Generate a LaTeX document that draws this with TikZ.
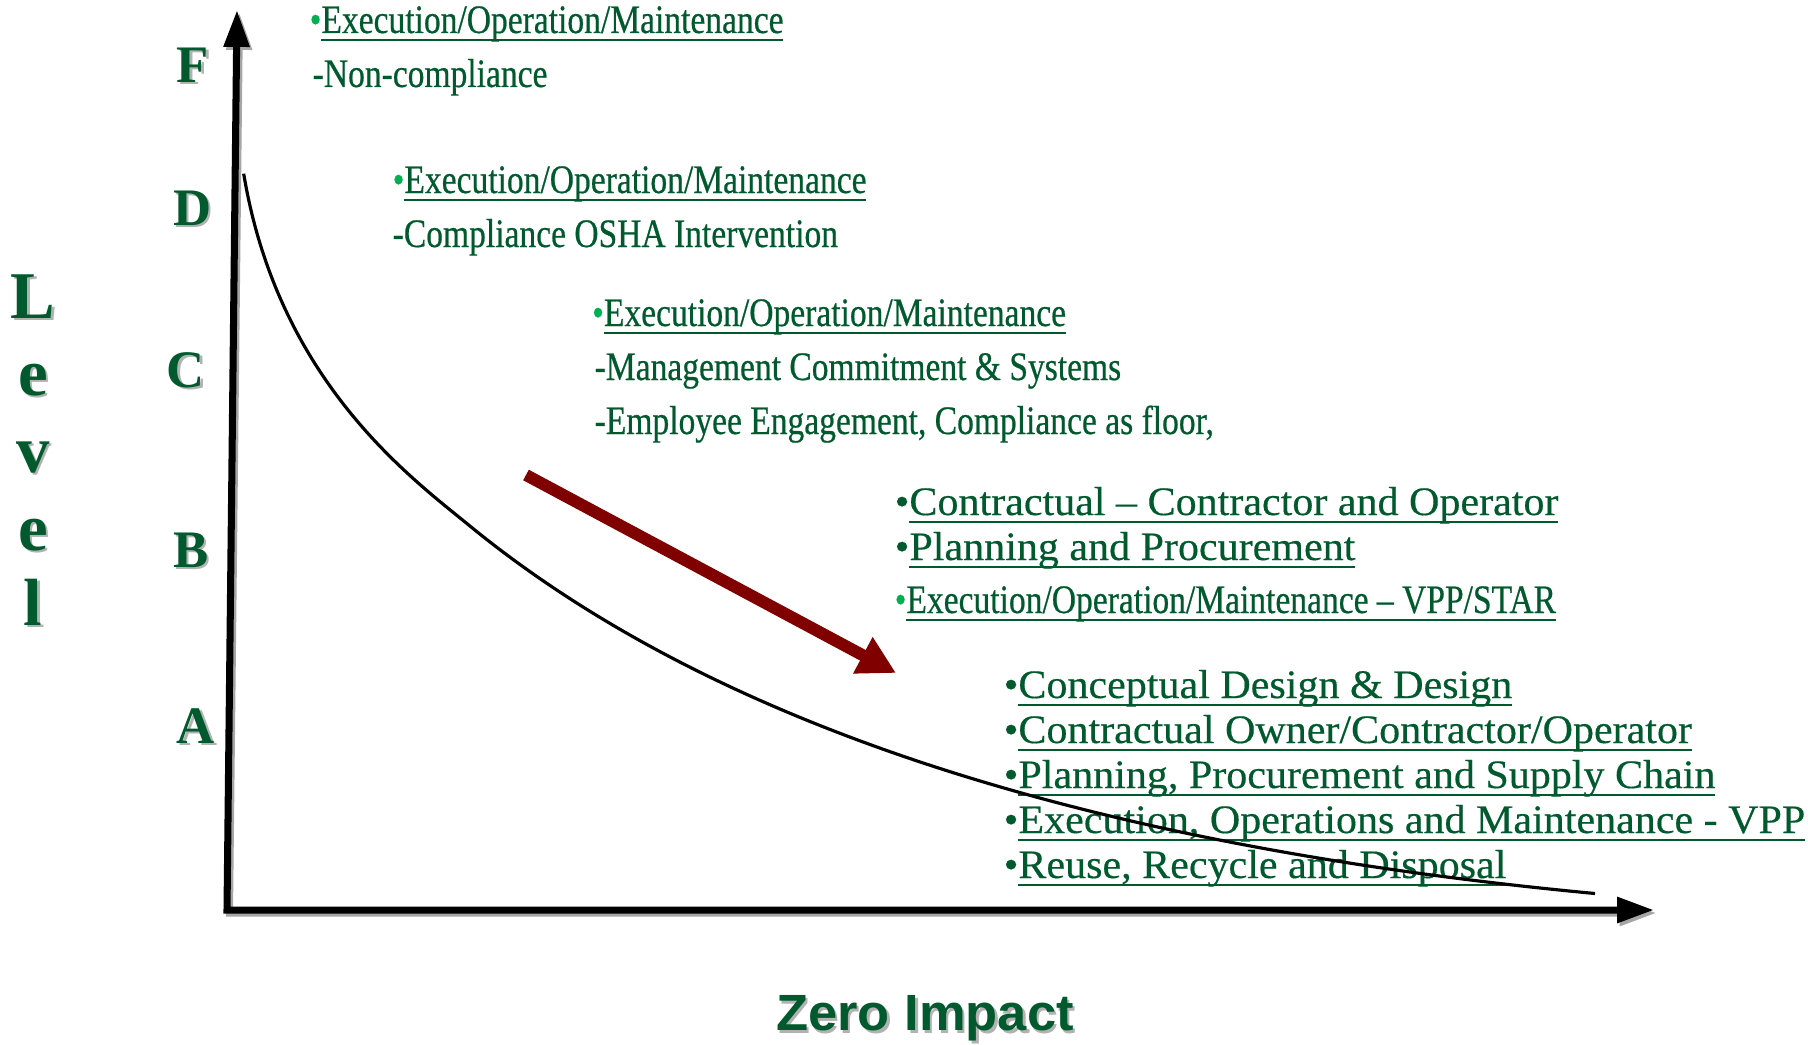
\documentclass[tikz,border=0pt]{standalone}
\usepackage{fontspec}
\usepackage{tikz}
\usetikzlibrary{arrows.meta}
\setmainfont{Liberation Serif}
\newfontfamily\tightfont[FakeStretch=0.83,FakeBold=0.5]{Liberation Serif}
\newfontfamily\widefont[FakeStretch=1.04,FakeBold=0.4]{Liberation Serif}
\newfontfamily\zerofont[FakeStretch=1.03]{Liberation Sans}
\definecolor{dkgreen}{RGB}{0,90,45}
\definecolor{ltgreen}{RGB}{0,176,80}
\definecolor{dkred}{RGB}{128,0,0}
\newcommand\undl[1]{\setbox0\hbox{#1}\rlap{\rule[-2.3pt]{\wd0}{0.65pt}}\box0}
\newcommand\dropshadow[1]{\rlap{\hspace{0.7pt}\raisebox{-0.7pt}{\color{black!30}#1}}#1}
\newcommand\gbul{{\color{ltgreen}•}}

\begin{document}
\begin{tikzpicture}[
    tight/.style={anchor=base west, inner sep=0pt, text=dkgreen, font=\tightfont\fontsize{11.5}{13}\selectfont},
    wide/.style={anchor=base west, inner sep=0pt, text=dkgreen, font=\widefont\fontsize{11.5}{13}\selectfont},
    level/.style={anchor=base, inner sep=0pt, text=dkgreen, font=\bfseries\fontsize{19}{21}\selectfont},
    grade/.style={anchor=base, inner sep=0pt, text=dkgreen, font=\bfseries\fontsize{15}{17}\selectfont},
    axis/.style={line width=2pt, line join=miter, {Triangle[length=10.5pt,width=7pt]}-{Triangle[length=10.5pt,width=7pt]}}
    ]
    \useasboundingbox (0,0) rectangle (18.08,10.44);
    \coordinate (origin) at (2.27,1.34);
    \coordinate (ytop) at (2.37,10.34);
    \coordinate (xend) at (16.54,1.34);
    \coordinate (redstart) at (5.26,5.69);
    \coordinate (redend) at (8.96,3.71);
    \coordinate (cstart) at (2.437,8.703);
    \coordinate (cmid) at (4.688,5.189);
    \coordinate (cend) at (15.95,1.505);

    % axes with their shadow
    \draw[axis, black!35] ([shift={(0.025,-0.03)}]ytop) -- ([shift={(0.025,-0.03)}]origin) -- ([shift={(0.025,-0.03)}]xend);
    \draw[axis] (ytop) -- (origin) -- (xend);

    \node[level] (lv1) at (0.33,7.26) {\dropshadow{L}};
    \node[level] (lv2) at (0.33,6.49) {\dropshadow{e}};
    \node[level] (lv3) at (0.33,5.72) {\dropshadow{v}};
    \node[level] (lv4) at (0.33,4.94) {\dropshadow{e}};
    \node[level] (lv5) at (0.33,4.19) {\dropshadow{l}};

    \node[grade] (gF) at (1.93,9.62) {\dropshadow{F}};
    \node[grade] (gD) at (1.925,8.19) {\dropshadow{D}};
    \node[grade] (gC) at (1.86,6.57) {\dropshadow{C}};
    \node[grade] (gB) at (1.91,4.77) {\dropshadow{B}};
    \node[grade] (gA) at (1.96,3.01) {\dropshadow{A}};

    \node[tight] (f1) at (3.09,10.11) {\gbul\undl{Execution/Operation/Maintenance}};
    \node[tight] (f2) at (3.12,9.57) {-Non-compliance};
    \node[tight] (d1) at (3.92,8.51) {\gbul\undl{Execution/Operation/Maintenance}};
    \node[tight] (d2) at (3.92,7.97) {-Compliance OSHA Intervention};
    \node[tight] (c1) at (5.915,7.18) {\gbul\undl{Execution/Operation/Maintenance}};
    \node[tight] (c2) at (5.94,6.64) {-Management Commitment \& Systems};
    \node[tight] (c3) at (5.94,6.10) {-Employee Engagement, Compliance as floor,};
    \node[wide] (b1) at (8.94,5.29) {•\undl{Contractual – Contractor and Operator}};
    \node[wide] (b2) at (8.94,4.84) {•\undl{Planning and Procurement}};
    \node[tight] (b3) at (8.94,4.31) {\gbul\undl{Execution/Operation/Maintenance – VPP/STAR}};
    \node[wide] (a1) at (10.03,3.46) {•\undl{Conceptual Design \& Design}};
    \node[wide] (a2) at (10.03,3.01) {•\undl{Contractual Owner/Contractor/Operator}};
    \node[wide] (a3) at (10.03,2.56) {•\undl{Planning, Procurement and Supply Chain}};
    \node[wide] (a4) at (10.03,2.11) {•\undl{Execution, Operations and Maintenance - VPP}};
    \node[wide] (a5) at (10.03,1.66) {•\undl{Reuse, Recycle and Disposal}};

    \draw[line width=0.9pt] (cstart) .. controls (2.781,6.632) and (4.108,5.665) .. (cmid)
        .. controls (7.162,3.160) and (10.972,1.973) .. (cend);
    \draw[line width=3.4pt, dkred, -{Triangle[length=10.7pt,width=11pt]}] (redstart) -- (redend);

    \node[anchor=base, inner sep=0pt, text=dkgreen, font=\zerofont\bfseries\fontsize{14.5}{17}\selectfont] (zero) at (9.25,0.133) {\dropshadow{Zero Impact}};
\end{tikzpicture}
\end{document}
